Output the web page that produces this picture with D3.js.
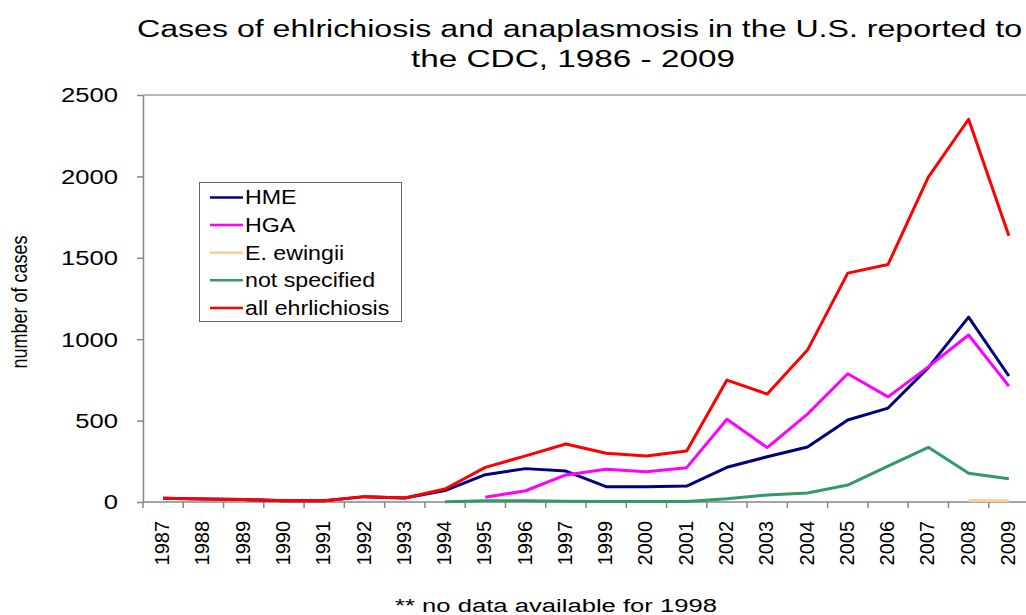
<!DOCTYPE html>
<html lang="en">
<head>
    <meta charset="UTF-8">
    <title>Ehrlichiosis and anaplasmosis cases</title>
    <style>
        body {
            margin: 0;
            padding: 0;
            background-color: #fff;
        }

        svg {
            display: block;
            font-family: 'Liberation Sans', Arial, sans-serif;
        }

        .axis path,
        .axis line {
            stroke: #868686;
            stroke-width: 1.5px;
        }

        .series {
            fill: none;
            stroke-width: 3px;
            stroke-linejoin: round;
        }
    </style>
    <script src="https://cdn.jsdelivr.net/npm/d3@7"></script>
</head>
<body>
    <div id="chart"></div>

    <script>
        // categories (no data for 1998)
        var years = ["1987", "1988", "1989", "1990", "1991", "1992", "1993", "1994", "1995", "1996", "1997",
                     "1999", "2000", "2001", "2002", "2003", "2004", "2005", "2006", "2007", "2008", "2009"];

        var hme = [23, 18, 15, 8, 7, 33, 25, 70, 168, 205, 190, 94, 94, 98, 213, 278, 338, 504, 577, 825, 1136, 774];
        var hga = [null, null, null, null, null, null, null, null, 29, 69, 166, 201, 186, 211, 508, 334, 540, 788, 646, 830, 1026, 712];
        var ewingii = [null, null, null, null, null, null, null, null, null, null, null, null, null, null, null, null, null, null, null, null, 9, 7];
        var notSpecified = [null, null, null, null, null, null, null, 2, 8, 8, 5, 3, 3, 3, 20, 43, 55, 104, 221, 336, 176, 143];
        var allEhrlichiosis = [23, 18, 15, 8, 7, 33, 25, 80, 213, 283, 356, 299, 283, 313, 749, 663, 933, 1406, 1459, 1995, 2351, 1636];

        var yTicks = [0, 500, 1000, 1500, 2000, 2500];

        var seriesNames = ["HME", "HGA", "E. ewingii", "not specified", "all ehrlichiosis"];
        var seriesValues = [hme, hga, ewingii, notSpecified, allEhrlichiosis];
        var seriesColors = ["#000080", "#ff00ff", "#ffcc99", "#339966", "#ff0000"];

        var width = 1026, height = 615;
        var plotLeft = 143, plotRight = 1029, plotTop = 95, plotBottom = 502;

        var svg = d3.select('#chart')
            .append('svg')
            .attr('width', width)
            .attr('height', height);

        var x = d3.scaleBand()
            .domain(years)
            .range([plotLeft, plotRight]);

        var y = d3.scaleLinear()
            .domain([0, 2500])
            .range([plotBottom, plotTop]);

        // title
        var title = svg.append('g').attr('fill', '#000').style('font-size', '23px');
        title.append('text')
            .attr('x', 137).attr('y', 37)
            .attr('textLength', 885).attr('lengthAdjust', 'spacingAndGlyphs')
            .text('Cases of ehlrichiosis and anaplasmosis in the U.S. reported to');
        title.append('text')
            .attr('x', 411).attr('y', 67)
            .attr('textLength', 324).attr('lengthAdjust', 'spacingAndGlyphs')
            .text('the CDC, 1986 - 2009');

        // plot area top border
        svg.append('line')
            .attr('x1', plotLeft).attr('x2', plotRight)
            .attr('y1', plotTop).attr('y2', plotTop)
            .attr('stroke', '#a0a0a0')
            .attr('stroke-width', 1.5);

        // y axis
        var yAxis = svg.append('g')
            .attr('class', 'axis')
            .attr('transform', 'translate(' + plotLeft + ',0)')
            .call(d3.axisLeft(y).tickValues(yTicks).tickFormat(d3.format('d')).tickSize(6).tickSizeOuter(0));
        yAxis.selectAll('text')
            .attr('x', null)
            .attr('dy', null)
            .attr('fill', '#000')
            .style('font-size', '20px')
            .attr('dominant-baseline', 'central')
            .attr('transform', 'translate(-25,0) scale(1.28,1)');

        // x axis, ticks between categories
        var xAxis = svg.append('g')
            .attr('class', 'axis')
            .attr('transform', 'translate(0,' + plotBottom + ')');
        xAxis.append('line')
            .attr('x1', plotLeft).attr('x2', plotRight);
        xAxis.selectAll('.tick')
            .data(years)
            .enter()
            .append('line')
            .attr('x1', d => x(d)).attr('x2', d => x(d))
            .attr('y1', 0).attr('y2', 6);
        xAxis.selectAll('.label')
            .data(years)
            .enter()
            .append('text')
            .attr('text-anchor', 'end')
            .attr('transform', d => 'translate(' + (x(d) + x.bandwidth() / 2 + 6) + ',19) rotate(-90) scale(1,1.05)')
            .style('font-size', '20px')
            .attr('fill', '#000')
            .text(d => d);

        // y axis title
        svg.append('text')
            .attr('text-anchor', 'middle')
            .attr('transform', 'translate(27,302) rotate(-90) scale(1,1.2)')
            .style('font-size', '18px')
            .text('number of cases');

        // footnote
        svg.append('text')
            .attr('x', 395).attr('y', 612)
            .attr('textLength', 322).attr('lengthAdjust', 'spacingAndGlyphs')
            .style('font-size', '18px')
            .text('** no data available for 1998');

        // lines
        var line = d3.line()
            .defined(d => d !== null)
            .x((d, i) => x(years[i]) + x.bandwidth() / 2)
            .y(d => y(d));

        svg.selectAll('.series')
            .data(seriesValues)
            .enter()
            .append('path')
            .attr('class', 'series')
            .attr('stroke', (d, i) => seriesColors[i])
            .attr('d', d => line(d));

        // legend
        var legend = svg.append('g');
        legend.append('rect')
            .attr('x', 199.5).attr('y', 182.5)
            .attr('width', 202).attr('height', 139)
            .attr('fill', '#fff')
            .attr('stroke', '#666')
            .attr('stroke-width', 1);

        var items = legend.selectAll('.item')
            .data(seriesNames)
            .enter()
            .append('g')
            .attr('transform', (d, i) => 'translate(210,' + (197.5 + i * 27.6) + ')');
        items.append('line')
            .attr('x1', 0).attr('x2', 33)
            .attr('stroke', (d, i) => seriesColors[i])
            .attr('stroke-width', 2.5);
        items.append('text')
            .attr('dominant-baseline', 'central')
            .attr('transform', 'translate(35,0) scale(1.16,1)')
            .style('font-size', '20px')
            .text(d => d);
    </script>
</body>
</html>
